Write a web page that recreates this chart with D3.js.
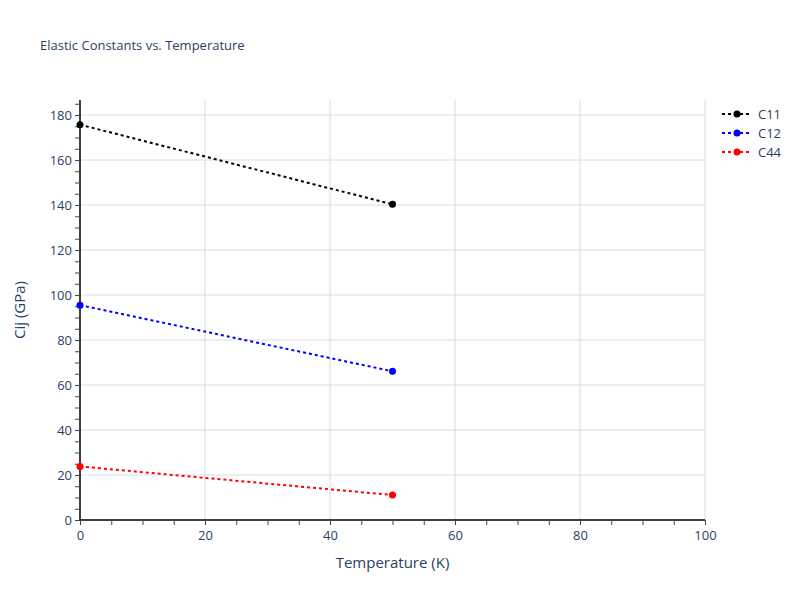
<!DOCTYPE html>
<html>
<head>
<meta charset="utf-8">
<script src="https://cdn.jsdelivr.net/npm/d3@7"></script>
<style>
  body { margin: 0; background: #fff; }
  text { font-family: "Open Sans", Verdana, Arial, sans-serif; }
</style>
</head>
<body>
<svg id="chart" width="800" height="600"></svg>
<script>
const temperatures = [0, 50];
const seriesNames = ["C11", "C12", "C44"];
const c11 = [175.7, 140.3];
const c12 = [95.5, 66.1];
const c44 = [23.8, 11.1];
const seriesColors = ["#000000", "#0000ff", "#ff0000"];
const xTicks = [0, 20, 40, 60, 80, 100];
const yTicks = [0, 20, 40, 60, 80, 100, 120, 140, 160, 180];

const seriesValues = [c11, c12, c44];
const W = 800, H = 600;
const margin = {left: 80, right: 95, top: 100, bottom: 80};
const svg = d3.select("#chart");
const x = d3.scaleLinear().domain([0, 100]).range([margin.left, W - margin.right]);
const y = d3.scaleLinear().domain([0, 186.67]).range([H - margin.bottom, margin.top]);
const textColor = "#2a3f5f";

// gridlines
const grid = svg.append("g");
grid.selectAll("line.h").data(yTicks.filter(d => d > 0)).enter().append("line")
  .attr("x1", x(0)).attr("x2", x(100))
  .attr("y1", d => y(d)).attr("y2", d => y(d))
  .attr("stroke", "#dcdcdc").attr("stroke-width", 1);
grid.selectAll("line.v").data(xTicks.filter(d => d > 0)).enter().append("line")
  .attr("y1", y(0)).attr("y2", margin.top)
  .attr("x1", d => x(d)).attr("x2", d => x(d))
  .attr("stroke", "#dcdcdc").attr("stroke-width", 1);

// axes
const xMinor = d3.range(0, 101, 5);
const yMinor = d3.range(0, 186, 5);
const xAxis = svg.append("g").attr("transform", `translate(0,${y(0)})`)
  .call(d3.axisBottom(x).tickValues(xMinor).tickSize(5).tickFormat(d => xTicks.includes(d) ? d : ""));
const yAxis = svg.append("g").attr("transform", `translate(${x(0)},0)`)
  .call(d3.axisLeft(y).tickValues(yMinor).tickSize(5).tickFormat(d => yTicks.includes(d) ? d : ""));
[xAxis, yAxis].forEach(a => {
  a.select(".domain").attr("stroke", "#000").attr("stroke-width", 1.5);
  a.selectAll(".tick line").attr("stroke", "#444");
  a.selectAll(".tick text").attr("fill", textColor).style("font-size", "13px")
    .style("font-family", "'Open Sans', Verdana, Arial, sans-serif");
});
xAxis.select(".domain").attr("d", `M${x(0)},0H${x(100)}`);
yAxis.select(".domain").attr("d", `M0,${y(0)}V${margin.top}`);
xAxis.selectAll(".tick text").attr("dy", "0.9em");

// lines
const line = d3.line().x((d, i) => x(temperatures[i])).y(d => y(d));
seriesValues.forEach((vals, si) => {
  svg.append("path").datum(vals).attr("d", line)
    .attr("fill", "none").attr("stroke", seriesColors[si]).attr("stroke-width", 2)
    .attr("stroke-dasharray", "3,3");
  svg.selectAll(null).data(vals).enter().append("circle")
    .attr("cx", (d, i) => x(temperatures[i])).attr("cy", d => y(d))
    .attr("r", 3.5).attr("fill", seriesColors[si]);
});

// title
svg.append("text").attr("x", 40).attr("y", 50).text("Elastic Constants vs. Temperature")
  .attr("fill", textColor).style("font-size", "13px");

// axis titles
svg.append("text").attr("x", (x(0) + x(100)) / 2).attr("y", 568).attr("text-anchor", "middle")
  .text("Temperature (K)").attr("fill", textColor).style("font-size", "15px");
svg.append("text").attr("transform", `translate(25,${(y(0) + margin.top) / 2}) rotate(-90)`)
  .attr("text-anchor", "middle").text("Cij (GPa)").attr("fill", textColor).style("font-size", "15px");

// legend
const legend = svg.append("g");
seriesNames.forEach((name, i) => {
  const ly = 114 + i * 19;
  legend.append("line").attr("x1", 722).attr("x2", 752).attr("y1", ly).attr("y2", ly)
    .attr("stroke", seriesColors[i]).attr("stroke-width", 2).attr("stroke-dasharray", "3,3");
  legend.append("circle").attr("cx", 737).attr("cy", ly).attr("r", 3.5).attr("fill", seriesColors[i]);
  legend.append("text").attr("x", 758).attr("y", ly + 4.5).text(name)
    .attr("fill", textColor).style("font-size", "13px");
});
</script>
</body>
</html>
